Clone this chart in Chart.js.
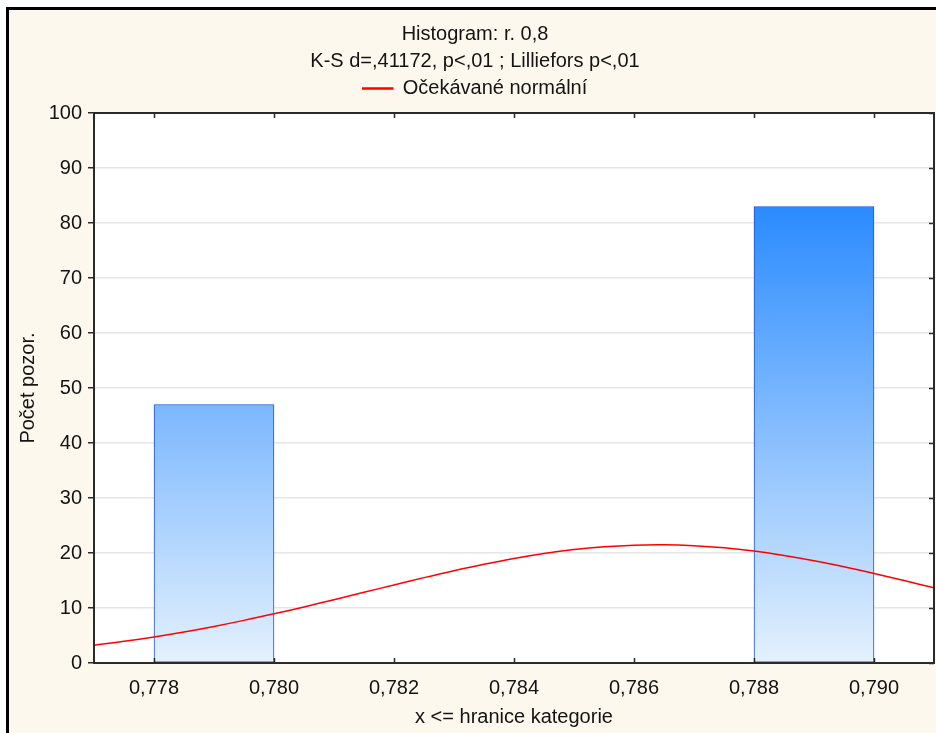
<!DOCTYPE html>
<html>
<head>
<meta charset="utf-8">
<script src="https://cdn.jsdelivr.net/npm/chart.js@4.4.1/dist/chart.umd.min.js"></script>
<style>
  html, body { margin: 0; padding: 0; background: #ffffff; }
  canvas { display: block; }
</style>
</head>
<body>
<canvas id="chart" width="936" height="733"></canvas>
<script>
// Histogram bins (x <= upper boundary) and observed counts
const binLower = [0.778, 0.780, 0.782, 0.784, 0.786, 0.788];
const binUpper = [0.780, 0.782, 0.784, 0.786, 0.788, 0.790];
const binCounts = [47, 0, 0, 0, 0, 83];

// Expected normal curve, sampled along the x axis
const curveX = [0.7770, 0.7775, 0.7780, 0.7785, 0.7790, 0.7795, 0.7800, 0.7805, 0.7810, 0.7815,
                0.7820, 0.7825, 0.7830, 0.7835, 0.7840, 0.7845, 0.7850, 0.7855, 0.7860, 0.7865,
                0.7870, 0.7875, 0.7880, 0.7885, 0.7890, 0.7895, 0.7900, 0.7905, 0.7910];
const curveY = [3.24, 3.94, 4.74, 5.64, 6.65, 7.75, 8.94, 10.20, 11.51, 12.85,
                14.20, 15.52, 16.78, 17.95, 19.00, 19.90, 20.62, 21.13, 21.43, 21.50,
                21.33, 20.95, 20.35, 19.56, 18.60, 17.50, 16.29, 15.00, 13.66];

// Axis ticks
const xTickValues = [0.778, 0.780, 0.782, 0.784, 0.786, 0.788, 0.790];
const yTickValues = [0, 10, 20, 30, 40, 50, 60, 70, 80, 90, 100];

const titleLines = ['Histogram: r. 0,8', 'K-S d=,41172, p<,01 ; Lilliefors p<,01'];
const curveLabel = 'Očekávané normální';
const xAxisTitle = 'x <= hranice kategorie';
const yAxisTitle = 'Počet pozor.';

const FONT = '"Liberation Sans", Arial, sans-serif';
const TEXT = '#141414';
const FRAME = '#2a2a2a';

const histData = binCounts.map((c, i) => ({ x: (binLower[i] + binUpper[i]) / 2, y: c }));
const curveData = curveX.map((x, i) => ({ x: x, y: curveY[i] }));

function barGradient(ctx) {
  const chart = ctx.chart;
  const area = chart.chartArea;
  if (!area) return '#7bb7ff';
  const y = chart.scales.y;
  const g = chart.ctx.createLinearGradient(0, y.getPixelForValue(0), 0, y.getPixelForValue(Math.max(...binCounts)));
  g.addColorStop(0, '#e4f1fd');
  g.addColorStop(1, '#2a8bff');
  return g;
}

// Page background, outer frame, white plot area, plot border and inner tick marks
const framePlugin = {
  id: 'framePlugin',
  beforeDraw(chart) {
    const c = chart.ctx;
    c.save();
    c.fillStyle = '#ffffff';
    c.fillRect(0, 0, chart.width, chart.height);
    c.fillStyle = '#fdf8ee';
    c.fillRect(6, 7, chart.width - 6, chart.height - 7);
    c.fillStyle = '#000000';
    c.fillRect(6, 7, chart.width - 6, 3);
    c.fillRect(6, 7, 3, chart.height - 7);
    const a = chart.chartArea;
    c.fillStyle = '#ffffff';
    c.fillRect(a.left, a.top, a.right - a.left, a.bottom - a.top);
    c.restore();
  },
  afterDatasetsDraw(chart) {
    const c = chart.ctx;
    const a = chart.chartArea;
    const xs = chart.scales.x, ys = chart.scales.y;
    c.save();
    c.strokeStyle = FRAME;
    c.lineWidth = 1.5;
    c.beginPath();
    xs.ticks.forEach(t => {
      const px = Math.round(xs.getPixelForValue(t.value)) + 0.5;
      c.moveTo(px, a.top); c.lineTo(px, a.top + 5);
      c.moveTo(px, a.bottom); c.lineTo(px, a.bottom - 5);
    });
    ys.ticks.forEach(t => {
      const py = Math.round(ys.getPixelForValue(t.value)) + 0.5;
      c.moveTo(a.right, py); c.lineTo(a.right - 5, py);
    });
    c.stroke();
    c.lineWidth = 2;
    c.strokeRect(a.left, a.top, a.right - a.left, a.bottom - a.top);
    c.restore();
  }
};

new Chart(document.getElementById('chart'), {
  type: 'bar',
  data: {
    datasets: [
      {
        type: 'line',
        label: curveLabel,
        data: curveData,
        borderColor: '#ff0000',
        backgroundColor: '#ff0000',
        borderWidth: 1.5,
        pointRadius: 0,
        tension: 0.4,
        fill: false,
        order: 0
      },
      {
        type: 'bar',
        label: 'Počet',
        data: histData,
        backgroundColor: barGradient,
        borderColor: '#1a50dc',
        borderWidth: ctx => (ctx.raw && ctx.raw.y > 0 ? 1 : 0),
        borderSkipped: false,
        barPercentage: 1,
        categoryPercentage: 1,
        order: 1
      }
    ]
  },
  options: {
    responsive: false,
    animation: false,
    devicePixelRatio: 1,
    layout: { padding: { left: 16, right: 2, top: 0, bottom: 0 } },
    plugins: {
      tooltip: { enabled: false },
      title: {
        display: true,
        text: titleLines,
        color: TEXT,
        font: { family: FONT, size: 20, weight: 'normal', lineHeight: 1.35 },
        padding: { top: 21, bottom: 0 },
        weight: 3000
      },
      // empty gap between the legend and the plot
      subtitle: {
        display: true,
        text: '',
        font: { family: FONT, size: 4.5, lineHeight: 1 },
        padding: 0,
        weight: 500
      },
      legend: {
        display: true,
        weight: 1000,
        labels: {
          filter: item => item.datasetIndex === 0,
          color: TEXT,
          font: { family: FONT, size: 20 },
          boxWidth: 30,
          boxHeight: 1,
          padding: 3.5
        }
      }
    },
    scales: {
      x: {
        type: 'linear',
        min: 0.777,
        max: 0.791,
        offset: false,
        afterBuildTicks: s => { s.ticks = xTickValues.map(v => ({ value: v })); },
        afterFit: s => { s.height = 70; },
        grid: { display: false, drawTicks: false },
        border: { display: false },
        ticks: {
          color: TEXT,
          font: { family: FONT, size: 20 },
          padding: 13,
          maxRotation: 0,
          autoSkip: false,
          callback: v => v.toFixed(3).replace('.', ',')
        },
        title: {
          display: true,
          text: xAxisTitle,
          color: TEXT,
          font: { family: FONT, size: 20 },
          padding: { top: 0, bottom: 4 }
        }
      },
      y: {
        type: 'linear',
        min: 0,
        max: 100,
        afterBuildTicks: s => { s.ticks = yTickValues.map(v => ({ value: v })); },
        afterFit: s => { s.width = 78; },
        grid: {
          color: '#e6e6e6',
          lineWidth: 1.5,
          drawTicks: true,
          tickLength: 6,
          tickColor: FRAME,
          tickWidth: 1.5
        },
        border: { display: false },
        ticks: {
          color: TEXT,
          font: { family: FONT, size: 20 },
          padding: 6,
          autoSkip: false,
          callback: v => String(v)
        },
        title: {
          display: true,
          text: yAxisTitle,
          color: TEXT,
          font: { family: FONT, size: 20 },
          padding: { top: 0, bottom: 0 }
        }
      }
    }
  },
  plugins: [framePlugin]
});
</script>
</body>
</html>
